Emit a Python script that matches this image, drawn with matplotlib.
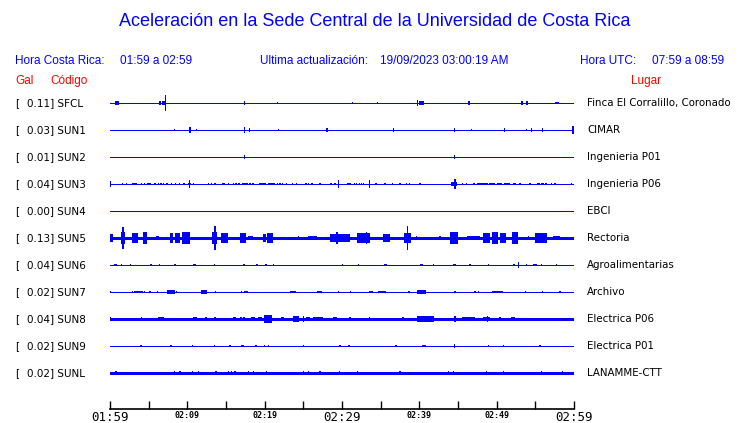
import numpy as np
import matplotlib
matplotlib.use("Agg")
import matplotlib.pyplot as plt
from matplotlib.transforms import blended_transform_factory

# Estaciones, aceleracion maxima (Gal) y lugar
codigos = ['SFCL', 'SUN1', 'SUN2', 'SUN3', 'SUN4', 'SUN5', 'SUN6', 'SUN7', 'SUN8', 'SUN9', 'SUNL']
gal = [0.11, 0.03, 0.01, 0.04, 0.00, 0.13, 0.04, 0.02, 0.04, 0.02, 0.02]
lugares = ['Finca El Corralillo, Coronado', 'CIMAR', 'Ingenieria P01', 'Ingenieria P06', 'EBCI',
           'Rectoria', 'Agroalimentarias', 'Archivo', 'Electrica P06', 'Electrica P01', 'LANAMME-CTT']

# Ventana de tiempo (minutos desde las 01:59)
tick_min = np.arange(0, 61, 5)
tick_txt = {0: '01:59', 10: '02:09', 20: '02:19', 30: '02:29', 40: '02:39', 50: '02:49', 60: '02:59'}
tick_big = [0, 30, 60]

sfcl = [(0.9, 0.4, 0.06), (6.5, 0.26, 0.06), (6.9, 0.4, 0.07), (7.15, 0, 0.30), (17.37, 0, 0.09),
        (21.63, 0, 0.04), (31.33, 0, 0.04), (34.56, 0, 0.04), (39.76, 0, 0.11), (40.3, 0.6, 0.06),
        (46.46, 0.26, 0.07), (53.27, 0, 0.06), (53.9, 0.3, 0.07), (57.8, 0.4, 0.05)]
sun1 = [(8.31, 0, 0.04), (10.34, 0, 0.11), (11.16, 0, 0.04), (17.37, 0, 0.11), (18.01, 0, 0.07),
        (21.81, 0, 0.04), (28.06, 0.26, 0.07), (36.63, 0, 0.07), (44.57, 0, 0.09), (46.77, 0, 0.04),
        (50.98, 0, 0.07), (53.88, 0, 0.04), (54.53, 0, 0.07), (55.9, 0, 0.07), (59.87, 0, 0.15)]
sun2 = [(17.37, 0, 0.07), (44.5, 0, 0.07)]
sun3 = [(0.06, 0, 0.11), (1.64, 0, 0.055), (2.16, 0, 0.055), (3.17, 0.72, 0.055), (4.1, 0, 0.055),
        (4.43, 0, 0.055), (5.04, 0.44, 0.055), (5.82, 0.26, 0.055), (6.25, 0, 0.055), (6.58, 0.22, 0.055),
        (6.89, 0, 0.055), (7.35, 0.22, 0.055), (7.95, 0.21, 0.055), (8.5, 0, 0.055), (8.96, 0, 0.055),
        (9.53, 0.26, 0.055), (10.28, 0.31, 0.055), (10.25, 0, 0.15), (10.77, 0, 0.055), (12.71, 0, 0.04),
        (13.14, 0.17, 0.055), (13.6, 0.22, 0.055), (14.66, 0.43, 0.055), (15.32, 0.21, 0.055),
        (15.94, 0, 0.04), (16.29, 0, 0.04), (16.68, 0.26, 0.055), (17.42, 0.78, 0.055), (18.1, 0, 0.04),
        (18.53, 0.26, 0.055), (19.72, 0.83, 0.055), (20.9, 0.87, 0.055), (21.68, 0, 0.055),
        (21.98, 0, 0.04), (22.33, 0, 0.055), (22.85, 0, 0.04), (23.62, 0, 0.04), (24.14, 0, 0.04),
        (25.34, 0, 0.04), (25.69, 0.17, 0.055), (26.12, 0, 0.04), (27.15, 0, 0.04), (28.6, 0.3, 0.055),
        (29.1, 0.26, 0.055), (29.57, 0, 0.15), (30.87, 0.52, 0.055), (31.64, 0, 0.04), (31.9, 0, 0.04),
        (32.24, 0, 0.04), (32.55, 0, 0.04), (32.75, 0, 0.04), (33.53, 0.17, 0.15), (34.39, 0, 0.04),
        (35.56, 0, 0.04), (36.55, 0, 0.04), (37.5, 0, 0.04), (38.36, 0, 0.04), (38.7, 0, 0.04),
        (40.08, 0, 0.04), (44.48, 0.7, 0.07), (44.6, 0, 0.19), (45.6, 0, 0.04), (46.12, 0, 0.04),
        (47.05, 0.3, 0.055), (48.16, 1.5, 0.055), (49.4, 0.74, 0.055), (50.4, 0.65, 0.055),
        (51.3, 0.78, 0.055), (52.15, 0, 0.04), (52.37, 0, 0.04), (53.02, 0, 0.04), (54.31, 0, 0.04),
        (55.4, 0.43, 0.055), (55.95, 0.35, 0.055), (56.4, 0.18, 0.055), (57.11, 0, 0.04),
        (57.54, 0, 0.04), (59.7, 0, 0.04)]
sun4 = []
sun5 = [(0.21, 0.43, 0.13), (1.68, 0.6, 0.22), (1.68, 0, 0.39), (3.21, 0.74, 0.2), (4.49, 0.52, 0.24),
        (6.16, 0.43, 0.09), (7.97, 0.43, 0.19), (8.73, 0.65, 0.2), (9.81, 1.07, 0.24), (13.52, 0.72, 0.22),
        (13.58, 0, 0.43), (14.81, 0.98, 0.17), (17.18, 0.74, 0.19), (18.17, 0.72, 0.07),
        (19.96, 0.43, 0.13), (20.69, 0.85, 0.19), (24.35, 0, 0.07), (26.18, 1.09, 0.07),
        (29.7, 2.6, 0.15), (29.35, 0, 0.22), (32.76, 1.72, 0.17), (33.19, 0, 0.22), (35.77, 0.87, 0.13),
        (38.47, 0.83, 0.19), (38.44, 0, 0.43), (39.66, 0, 0.06), (42.67, 0, 0.06), (44.5, 1.07, 0.22),
        (46.98, 1.72, 0.09), (48.7, 0.9, 0.2), (49.8, 0.85, 0.22), (50.8, 0.85, 0.17),
        (52.37, 0.85, 0.22), (54.09, 0, 0.06), (55.71, 1.5, 0.19), (57.75, 0.87, 0.09)]
sun6 = [(0.69, 0.35, 0.055), (1.51, 0, 0.04), (2.68, 0, 0.055), (5.3, 0.26, 0.055), (6.37, 0, 0.04),
        (8.4, 0.26, 0.055), (10.95, 0.35, 0.055), (13.49, 0, 0.04), (17.35, 0.22, 0.055),
        (19.0, 0.26, 0.055), (20.15, 0.22, 0.055), (21.12, 0, 0.04), (30.04, 0, 0.04), (32.1, 0, 0.04),
        (35.64, 0.43, 0.055), (40.3, 0.43, 0.055), (41.8, 0, 0.03), (44.56, 0.35, 0.055),
        (46.55, 0, 0.055), (48.92, 0, 0.04), (52.25, 0.22, 0.055), (52.8, 0, 0.11), (53.88, 0, 0.055),
        (54.95, 0.43, 0.055), (55.82, 0, 0.055), (57.76, 0, 0.055)]
sun7 = [(0.0, 0, 0.055), (2.88, 0, 0.04), (3.66, 1.12, 0.055), (4.43, 0, 0.04), (5.17, 0, 0.04),
        (6.12, 0, 0.04), (7.9, 1.07, 0.07), (7.54, 0, 0.09), (8.62, 0, 0.04), (12.11, 0.78, 0.07),
        (13.62, 0, 0.04), (17.03, 0, 0.04), (17.57, 0.48, 0.055), (23.64, 0.74, 0.055),
        (27.09, 0.57, 0.055), (29.52, 0, 0.04), (31.12, 0, 0.04), (33.79, 0.52, 0.055),
        (35.19, 1.0, 0.055), (38.66, 0, 0.055), (40.26, 1.2, 0.07), (44.61, 0, 0.055), (47.19, 0, 0.04),
        (47.62, 0, 0.055), (50.1, 1.5, 0.055), (53.75, 0, 0.04), (55.9, 0, 0.055), (58.19, 0, 0.055)]
sun8 = [(0.06, 0, 0.09), (4.05, 0, 0.07), (4.43, 0, 0.055), (5.52, 0, 0.055), (6.63, 0.78, 0.07),
        (10.25, 0, 0.055), (10.99, 0.44, 0.07), (12.43, 0.3, 0.09), (13.58, 0, 0.09), (14.13, 0, 0.055),
        (16.1, 0.3, 0.09), (16.94, 0, 0.07), (17.33, 0, 0.09), (18.47, 0.55, 0.09), (19.4, 0.44, 0.07),
        (20.41, 1.0, 0.13), (21.43, 0, 0.055), (22.28, 0.43, 0.07), (23.18, 0, 0.055),
        (24.05, 0.85, 0.11), (25.0, 0, 0.11), (25.6, 0.52, 0.09), (26.86, 1.3, 0.09), (28.23, 0, 0.055),
        (29.1, 0.44, 0.09), (30.81, 0, 0.055), (31.03, 0, 0.07), (32.24, 0, 0.055), (33.53, 0, 0.07),
        (36.55, 0, 0.055), (37.86, 0.3, 0.07), (38.79, 0, 0.055), (40.78, 2.24, 0.11), (43.6, 0.3, 0.055),
        (44.61, 0, 0.11), (46.34, 1.72, 0.07), (48.7, 0.87, 0.07), (48.84, 0, 0.11), (50.43, 0, 0.07),
        (51.19, 0.65, 0.055), (52.1, 0.55, 0.09), (53.19, 0.35, 0.055)]
sun9 = [(4.01, 0, 0.04), (7.89, 0, 0.04), (10.64, 0, 0.04), (13.49, 0, 0.04), (15.52, 0, 0.04),
        (17.13, 0.39, 0.055), (18.88, 0, 0.04), (19.95, 0, 0.055), (20.47, 0, 0.055), (25.0, 0, 0.04),
        (29.74, 0, 0.04), (30.9, 0, 0.04), (36.98, 0, 0.04), (40.57, 0.52, 0.055), (44.52, 0, 0.09),
        (48.92, 0, 0.04), (50.86, 0, 0.04), (55.6, 0, 0.04)]
sunl = [(0.78, 0, 0.07), (3.53, 0, 0.055), (6.06, 0.22, 0.055), (8.31, 0, 0.07), (9.05, 0, 0.09),
        (10.64, 0, 0.07), (11.42, 0, 0.07), (13.71, 0, 0.09), (15.3, 0, 0.07), (15.74, 0, 0.07),
        (16.16, 0, 0.09), (17.88, 0, 0.09), (18.53, 0, 0.07), (20.26, 0, 0.09), (22.63, 0, 0.055),
        (25.0, 0, 0.09), (25.64, 0, 0.07), (27.15, 0, 0.07), (29.65, 0, 0.09), (31.98, 0, 0.07),
        (34.27, 0, 0.055), (37.5, 0, 0.07), (43.74, 0, 0.07), (44.39, 0, 0.07), (46.42, 0, 0.055),
        (48.71, 0, 0.07), (50.86, 0, 0.07), (53.24, 0, 0.055), (55.82, 0, 0.07), (56.47, 0, 0.055),
        (58.54, 0, 0.07)]
trazas = [sfcl, sun1, sun2, sun3, sun4, sun5, sun6, sun7, sun8, sun9, sunl]

# estilo
azul = '#0000ff'
rojo = '#ff0000'
grosor = [1, 1, 1, 1, 1, 3, 1, 1, 3, 1, 3]   # px
W, H = 740, 423

fig = plt.figure(figsize=(W / 100, H / 100), dpi=100, facecolor='white')
ax = fig.add_axes([110 / W, (H - 409) / H, 464 / W, (409 - 90) / H])
ax.set_xlim(0, 60)
ax.set_ylim((409 - 103) / 27, -(103 - 90) / 27)

for i, ev in enumerate(trazas):
    ax.hlines(i, 0, 60, color=azul, lw=grosor[i] * 0.72, antialiased=False)
    if ev:
        t, w, a = np.array(ev).T
        ax.bar(t, 2 * a, width=np.maximum(w, 0.16), bottom=i - a, color=azul,
               linewidth=0, antialiased=False)

for s in ['left', 'right', 'top']:
    ax.spines[s].set_visible(False)
ax.spines['bottom'].set_linewidth(1.2)
ax.set_yticks([])
ax.set_xticks(tick_min)
ax.set_xticklabels([tick_txt.get(m, '') for m in tick_min])
ax.tick_params(axis='x', direction='in', length=6, width=1, pad=1.5)
for m, lab in zip(tick_min, ax.get_xticklabels()):
    lab.set_family('DejaVu Sans Mono')
    if m in tick_big:
        lab.set_fontsize(9)
    else:
        lab.set_fontsize(6)
        lab.set_fontweight('bold')

# Textos
def ftext(x, y, s, **kw):
    fig.text(x / W, 1 - y / H, s, va='center', **kw)

ftext(375, 22, 'Aceleración en la Sede Central de la Universidad de Costa Rica', ha='center',
      color=azul, fontsize=13, family='Liberation Sans')
enc = dict(color=azul, fontsize=8.5, family='Liberation Sans')
ftext(15, 61, 'Hora Costa Rica:', **enc)
ftext(120, 61, '01:59 a 02:59', **enc)
ftext(260, 61, 'Ultima actualización:', **enc)
ftext(380, 61, '19/09/2023 03:00:19 AM', **enc)
ftext(580, 61, 'Hora UTC:', **enc)
ftext(724, 61, '07:59 a 08:59', ha='right', **enc)
roj = dict(color=rojo, fontsize=8.5, family='Liberation Sans')
ftext(15, 81, 'Gal', **roj)
ftext(50, 81, 'Código', **roj)
ftext(646, 81, 'Lugar', ha='center', **roj)

tr = blended_transform_factory(fig.transFigure, ax.transData)
for i, (c, g, l) in enumerate(zip(codigos, gal, lugares)):
    ax.text(15 / W, i, '[', transform=tr, va='center', fontsize=7.5, color='black')
    ax.text(27 / W, i, f'{g:.2f}] {c}', transform=tr, va='center', fontsize=7.5, color='black')
    ax.text(587 / W, i, l, transform=tr, va='center', fontsize=7.4, color='black')

fig.savefig('out.png', dpi=100, facecolor='white')
